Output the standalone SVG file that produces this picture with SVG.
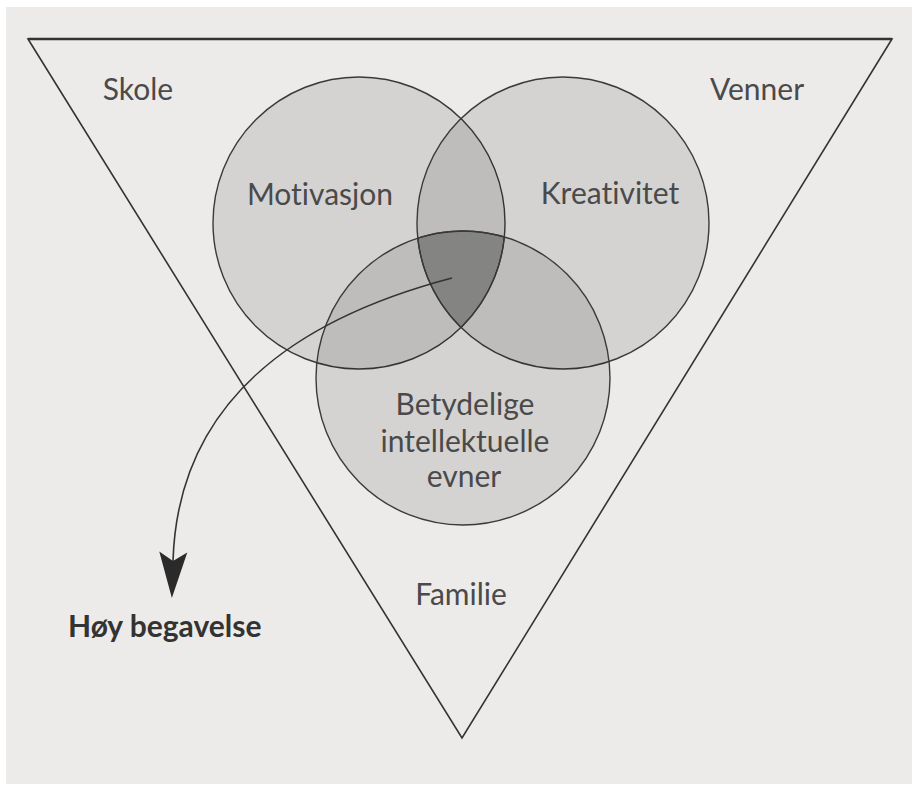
<svg xmlns="http://www.w3.org/2000/svg" width="912" height="785" viewBox="0 0 912 785">
  <style>
    .lbl { font-family: Lato, "Open Sans", "Liberation Sans", sans-serif; font-size: 30px; fill: #4a4a4a; text-anchor: middle; font-variant-ligatures: none; font-feature-settings: "liga" 0, "clig" 0; }
    .out { font-family: Lato, "Open Sans", "Liberation Sans", sans-serif; font-size: 30px; font-weight: bold; fill: #333; font-variant-ligatures: none; }
    .circ { fill: #000; fill-opacity: 0.1; stroke: #3a3a3a; stroke-width: 1.4; }
    .edge { fill: none; stroke: #333; stroke-width: 1.6; }
  </style>
  <defs>
    <marker id="arrow" markerUnits="userSpaceOnUse" markerWidth="60" markerHeight="40" viewBox="-12 -20 60 40" refX="0" refY="0" orient="auto">
      <path d="M37,0 L-9,-14 L0,0 L-9,14 Z" fill="#2a2a2a"/>
    </marker>
  </defs>
  <rect x="0" y="0" width="912" height="785" fill="#ffffff"/>
  <rect x="6" y="7" width="906" height="777" fill="#ecebea"/>

  <g id="triangle">
    <path d="M28,39 L892,39 L462,738 Z" fill="none" stroke="#333" stroke-width="1.6"/>
    <line x1="28" y1="39" x2="892" y2="39" stroke="#333" stroke-width="2.4"/>
  </g>

  <g id="motivasjon">
    <circle class="circ" cx="359" cy="223" r="146"/>
    <text class="lbl" x="320" y="205">Motivasjon</text>
  </g>
  <g id="kreativitet">
    <circle class="circ" cx="563" cy="223" r="146"/>
    <text class="lbl" x="610" y="204">Kreativitet</text>
  </g>
  <g id="evner">
    <circle class="circ" cx="463" cy="378" r="147"/>
    <text class="lbl" x="465" y="415">Betydelige</text>
    <text class="lbl" x="465" y="452">intellektuelle</text>
    <text class="lbl" x="464" y="487">evner</text>
  </g>
  <g id="kjerne">
    <path d="M417.8,238.1 A147,147 0 0 1 504.3,237 A146,146 0 0 1 461,327.5 A146,146 0 0 1 417.8,238.1 Z" fill="#000" fill-opacity="0.22" stroke="#3a3a3a" stroke-width="1.2"/>
  </g>

  <g id="skole"><text class="lbl" x="138" y="100">Skole</text></g>
  <g id="venner"><text class="lbl" x="757" y="100">Venner</text></g>
  <g id="familie"><text class="lbl" x="461" y="605">Familie</text></g>
  <g id="hoy-begavelse"><text class="out" x="68" y="637">Høy begavelse</text></g>

  <g id="connectors">
    <path class="edge" d="M452,278 C300,318 178,398 173,561" marker-end="url(#arrow)"/>
  </g>
</svg>
